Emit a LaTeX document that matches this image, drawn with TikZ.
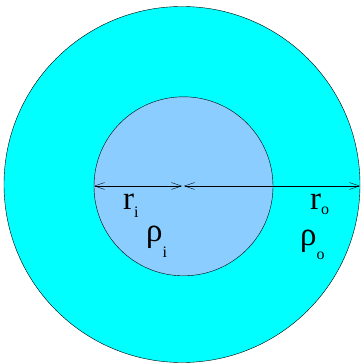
\documentclass[tikz,border=0pt]{standalone}
\usepackage{fontspec}
\setmainfont{Liberation Serif}
\usetikzlibrary{arrows.meta}
\definecolor{vungngoai}{RGB}{0,255,255}
\definecolor{vungtrong}{RGB}{140,205,255}
\begin{document}
\begin{tikzpicture}[x=1pt,y=-1pt,>={Straight Barb[length=10pt,width=7pt]},
	nhan/.style={inner sep=0pt,anchor=base west,font=\fontsize{33}{33}\selectfont}]
	\useasboundingbox (0,0) rectangle (361,363);
	
	% 1. Vẽ vùng ngoài và vùng trong
	\draw[fill=vungngoai] (182,184.5) circle[radius=178pt];
	\draw[fill=vungtrong] (183.5,186.3) circle[radius=89.5pt];
	
	% 2. Các điểm mốc cho mũi tên bán kính
	\coordinate (tam) at (182,186);
	\coordinate (tamphai) at (184,186);
	\coordinate (trongtrai) at (94,186);
	\coordinate (ngoaiphai) at (360,186);
	
	% 3. Mũi tên r_i và r_o
	\draw[<->, thin] (trongtrai) -- (tam);
	\draw[<->, thin] (tamphai) -- (ngoaiphai);
	
	% 4. Nhãn
	\node[nhan] (ri) at (123,209) {r\raisebox{-8pt}{\fontsize{16}{16}\selectfont i}};
	\node[nhan] (rhoi) at (146,241) {ρ\raisebox{-16pt}{\fontsize{16}{16}\selectfont i}};
	\node[nhan] (ro) at (310,209) {r\raisebox{-5pt}{\fontsize{16}{16}\selectfont o}};
	\node[nhan] (rhoo) at (300,245) {ρ\raisebox{-14pt}{\fontsize{16}{16}\selectfont o}};
	
\end{tikzpicture}
\end{document}
